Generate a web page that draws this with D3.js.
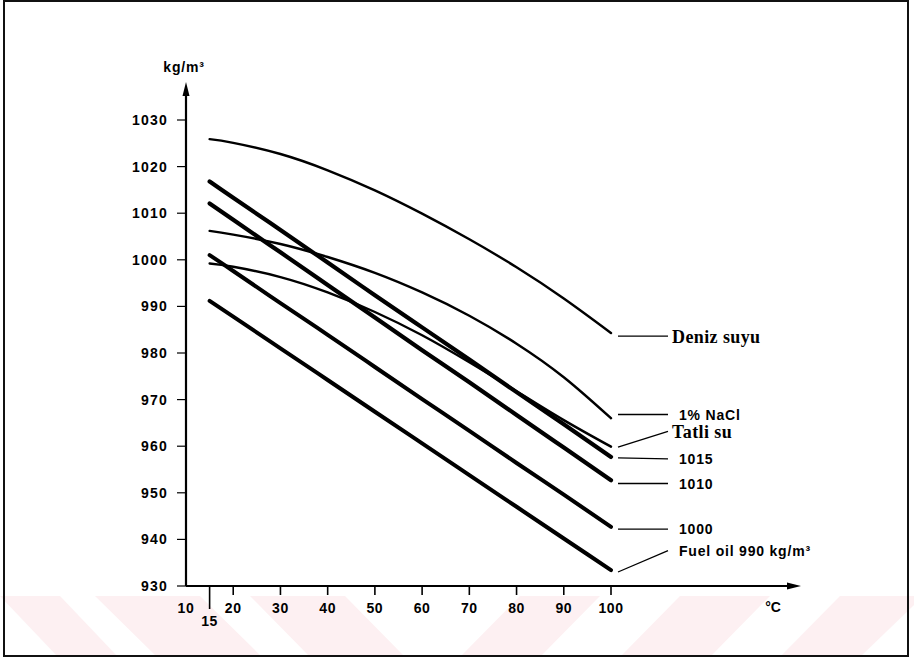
<!DOCTYPE html>
<html><head><meta charset="utf-8">
<script src="https://cdn.jsdelivr.net/npm/d3@7"></script>
<style>body{margin:0;background:#fff}svg{display:block}</style>
</head><body>
<svg id="c" width="914" height="658"></svg>
<script>
const temps = [15,20,30,40,50,60,70,80,90,100];
const denizSuyu = [1025.9,1025.1,1022.7,1019.2,1014.9,1009.9,1004.4,998.4,991.7,984.3];
const nacl1 = [1006.2,1005.4,1003.4,1000.6,997.2,993.0,988.0,982.0,974.8,966.0];
const tatliSu = [999.2,998.5,996.3,993.0,988.8,983.8,978.0,971.8,965.6,959.9];
const oil1015 = [1016.8,1013.3,1006.4,999.4,992.4,985.5,978.6,971.6,964.7,957.7];
const oil1010 = [1012.1,1008.6,1001.6,994.6,987.6,980.6,973.7,966.7,959.7,952.7];
const oil1000 = [1001.0,997.6,990.7,983.9,977.0,970.1,963.3,956.4,949.6,942.7];
const fuel990 = [991.2,987.8,981.0,974.2,967.4,960.6,953.8,947.0,940.2,933.4];
const yTicks = [930,940,950,960,970,980,990,1000,1010,1020,1030];
const xTicks = [10,20,30,40,50,60,70,80,90,100];
const labelNames = ["Deniz suyu","1% NaCl","Tatli su","1015","1010","1000","Fuel oil 990 kg/m³"];
const labelValues = [983.6,966.8,963.2,957.3,952.0,942.2,937.6];
const labelAnchor = [983.6,966.8,959.8,957.5,952.0,942.2,933.0];

const svg = d3.select("#c");
// faint watermark stripes
const pink = "#fdf0f2";
const stripes = [
  [[0,596],[60,596],[118,657],[58,657]],
  [[95,596],[200,596],[262,657],[157,657]],
  [[250,596],[345,596],[405,657],[310,657]],
  [[520,596],[600,596],[540,657],[460,657]],
  [[680,596],[770,596],[710,657],[620,657]],
  [[840,596],[914,596],[914,605],[860,657],[780,657]]
];
svg.selectAll("polygon.s").data(stripes).join("polygon").attr("class","s")
  .attr("points",d=>d.map(p=>p.join(",")).join(" ")).attr("fill",pink);
// frame
svg.append("rect").attr("x",4).attr("y",1).attr("width",904).attr("height",655)
  .attr("fill","none").attr("stroke","#111").attr("stroke-width",2);

const x = d3.scaleLinear().domain([10,100]).range([186,611]);
const y = d3.scaleLinear().domain([930,1030]).range([586,120]);
const sans = "'Liberation Sans', Arial, sans-serif";
const serif = "'Liberation Serif', 'Times New Roman', serif";

// axes lines with arrows
svg.append("line").attr("x1",x(10)).attr("x2",x(10)).attr("y1",y(930)).attr("y2",92)
  .attr("stroke","#000").attr("stroke-width",2.2);
svg.append("path").attr("d",`M${x(10)},82 L${x(10)-3.5},96 L${x(10)+3.5},96 Z`).attr("fill","#000");
svg.append("line").attr("x1",x(10)).attr("x2",792).attr("y1",y(930)).attr("y2",y(930))
  .attr("stroke","#000").attr("stroke-width",2);
svg.append("path").attr("d",`M801,${y(930)} L787,${y(930)-3.5} L787,${y(930)+3.5} Z`).attr("fill","#000");

// y ticks
const ya = svg.append("g");
ya.selectAll("line").data(yTicks).join("line")
  .attr("x1",x(10)-9).attr("x2",x(10)).attr("y1",d=>y(d)).attr("y2",d=>y(d))
  .attr("stroke","#000").attr("stroke-width",1.2);
ya.selectAll("text").data(yTicks).join("text")
  .attr("x",168).attr("y",d=>y(d)).attr("dy","0.36em").attr("text-anchor","end")
  .attr("font-family",sans).attr("font-weight","bold").attr("font-size",14)
  .attr("letter-spacing","1.2px").text(d=>d);
svg.append("text").attr("x",184).attr("y",72).attr("text-anchor","middle")
  .attr("font-family",sans).attr("font-weight","bold").attr("font-size",14)
  .attr("letter-spacing","0.8px").text("kg/m³");

// x ticks
const xa = svg.append("g");
xa.selectAll("line").data(xTicks.filter(d=>d>10)).join("line")
  .attr("x1",d=>x(d)).attr("x2",d=>x(d)).attr("y1",y(930)).attr("y2",y(930)+9)
  .attr("stroke","#000").attr("stroke-width",1.6);
xa.selectAll("text").data(xTicks).join("text")
  .attr("x",d=>x(d)).attr("y",613).attr("text-anchor","middle")
  .attr("font-family",sans).attr("font-weight","bold").attr("font-size",14)
  .attr("letter-spacing","0.6px").text(d=>d);
svg.append("line").attr("x1",x(15)).attr("x2",x(15)).attr("y1",y(930)).attr("y2",y(930)+23)
  .attr("stroke","#000").attr("stroke-width",1.6);
svg.append("text").attr("x",x(15)).attr("y",626).attr("text-anchor","middle")
  .attr("font-family",sans).attr("font-weight","bold").attr("font-size",14)
  .attr("letter-spacing","0.6px").text("15");
svg.append("text").attr("x",773).attr("y",612).attr("text-anchor","middle")
  .attr("font-family",sans).attr("font-weight","bold").attr("font-size",14).text("°C");

// curves
const series = [
  {v:denizSuyu,w:2.4},{v:nacl1,w:2.4},{v:tatliSu,w:2.4},
  {v:oil1015,w:4.2},{v:oil1010,w:4.2},{v:oil1000,w:4},{v:fuel990,w:4}
];
const line = d3.line().x((d,i)=>x(temps[i])).y(d=>y(d)).curve(d3.curveNatural);
svg.selectAll("path.curve").data(series).join("path").attr("class","curve")
  .attr("d",d=>line(d.v)).attr("fill","none").attr("stroke","#000")
  .attr("stroke-width",d=>d.w).attr("stroke-linecap","round");

// labels with leaders
const lg = svg.append("g");
labelNames.forEach((n,i)=>{
  lg.append("line").attr("x1",618).attr("y1",y(labelAnchor[i])).attr("x2",668).attr("y2",y(labelValues[i]))
    .attr("stroke","#000").attr("stroke-width",1.3);
  const isSerif = (n==="Deniz suyu"||n==="Tatli su");
  lg.append("text").attr("x",isSerif?672:679).attr("y",y(labelValues[i])).attr("dy","0.36em")
    .attr("font-family",isSerif?serif:sans).attr("font-weight","bold")
    .attr("font-size",isSerif?18:14).attr("letter-spacing",isSerif?"0.4px":"0.8px").text(n);
});
</script>
</body></html>
